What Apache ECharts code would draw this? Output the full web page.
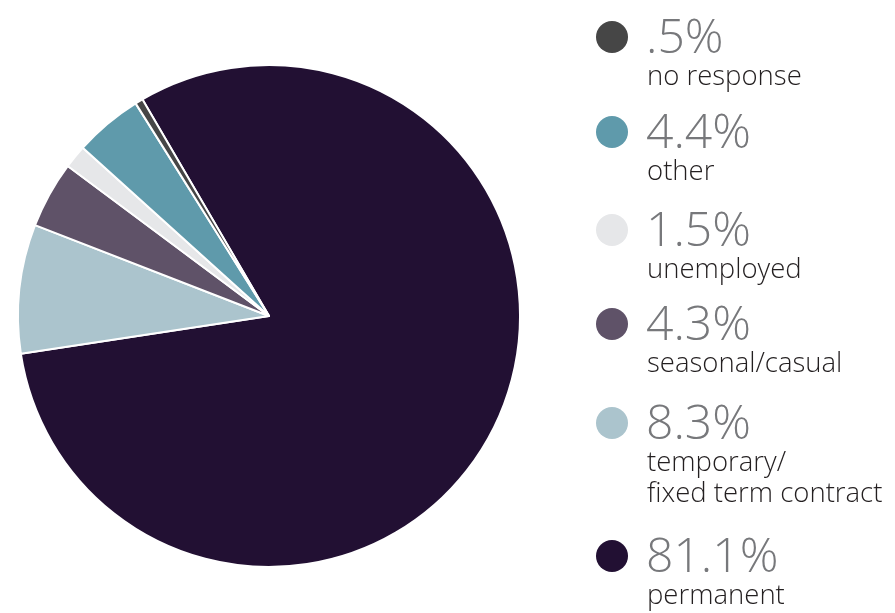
<!DOCTYPE html>
<html><head><meta charset="utf-8">
<script src="https://cdn.jsdelivr.net/npm/echarts@6/dist/echarts.min.js"></script>
<style>html,body{margin:0;padding:0;background:#fff}#c{width:895px;height:613px}</style>
</head><body><div id="c"></div>
<script>
// pie data, clockwise from start
const categories = ['permanent', 'temporary/\nfixed term contract', 'seasonal/casual', 'unemployed', 'other', 'no response'];
const values = [81.1, 8.3, 4.3, 1.5, 4.4, 0.5];
const pctLabels = ['81.1%', '8.3%', '4.3%', '1.5%', '4.4%', '.5%'];
const colors = ['#221033', '#abc4cd', '#5f5268', '#e6e7e9', '#5f9aab', '#464646'];
// legend order (top to bottom) as indices into the arrays above
const legendOrder = [5, 4, 3, 2, 1, 0];

const chart = echarts.init(document.getElementById('c'));
const legendY = [37, 132, 230, 324, 423, 556];
const graphic = [];
legendOrder.forEach((idx, i) => {
  const y = legendY[i];
  graphic.push({type: 'circle', shape: {cx: 612, cy: y, r: 16}, style: {fill: colors[idx]}});
  graphic.push({type: 'text', x: 646, y: y + 2, style: {text: pctLabels[idx], font: '300 48px "Open Sans"', fill: '#77787b', textVerticalAlign: 'middle'}});
  graphic.push({type: 'text', x: 647, y: y + 25, style: {text: categories[idx], font: '300 27.5px "Open Sans"', fill: '#231f20', lineHeight: 31, textVerticalAlign: 'top'}});
});

chart.setOption({
  animation: false,
  series: [{
    type: 'pie',
    center: [269, 316],
    radius: [0, 251],
    startAngle: 120.3,
    clockwise: true,
    label: {show: false},
    labelLine: {show: false},
    itemStyle: {borderColor: '#fff', borderWidth: 2},
    data: categories.map((n, i) => ({name: n, value: values[i], itemStyle: {color: colors[i]}}))
  }],
  graphic: graphic
});
</script></body></html>
